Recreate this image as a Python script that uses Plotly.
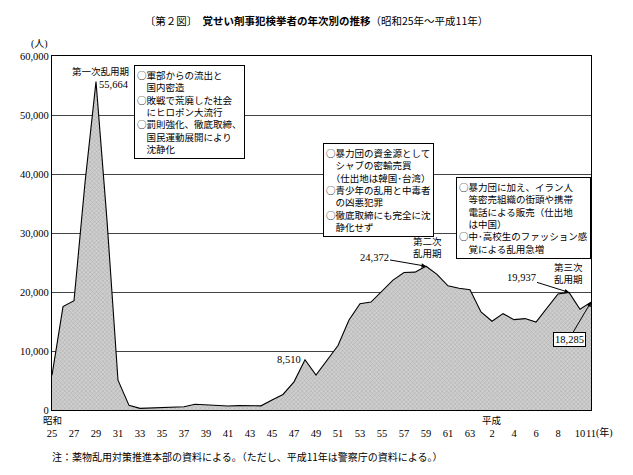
import plotly.graph_objects as go

# ---- data ----
years = list(range(1950, 2000))
arrests = [5900, 17528, 18521, 38514, 55664, 32140, 5047, 781, 271, 370,
           476, 477, 546, 971, 856, 735, 683, 747, 775, 704,
           1682, 2634, 4777, 8510, 5919, 8422, 10919, 15250, 18027, 18297,
           20200, 22024, 23301, 23365, 24372, 22980, 21052, 20643, 20399, 16613,
           15038, 16330, 15311, 15495, 14896, 17364, 19666, 19937, 17084, 18285]

tick_years = list(range(1950, 1989, 2)) + [1990, 1992, 1994, 1996, 1998, 1999]
tick_text = [str(y - 1925) for y in range(1950, 1989, 2)] + ["2", "4", "6", "8", "10", "11"]
y_ticks = [0, 10000, 20000, 30000, 40000, 50000, 60000]

title_text = "〔第２図〕　<b>覚せい剤事犯検挙者の年次別の推移</b>（昭和25年～平成11年）"
box1 = ["○軍部からの流出と", "　国内密造", "○敗戦で荒廃した社会", "　にヒロポン大流行",
        "○罰則強化、徹底取締、", "　国民運動展開により", "　沈静化"]
box2 = ["○暴力団の資金源として", "　シャブの密輸売買", "　（仕出地は韓国･台湾）",
        "○青少年の乱用と中毒者", "　の凶悪犯罪", "○徹底取締にも完全に沈", "　静化せず"]
box3 = ["○暴力団に加え、イラン人", "　等密売組織の街頭や携帯", "　電話による販売（仕出地",
        "　は中国）", "○中･高校生のファッション感", "　覚による乱用急増"]
footnote = "注：薬物乱用対策推進本部の資料による。（ただし、平成11年は警察庁の資料による。）"

# page has an 8px body margin; figure is placed at (8, 8)
OFF = 8
W, H = 633 - 2 * OFF, 475 - 2 * OFF
L, R, T, B = 49, 591, 56, 410   # plot area in page pixels

def px(x):
    return (x - L) / (R - L)

def py(y):
    return (B - y) / (B - T)

SERIF = "Liberation Serif, Noto Sans CJK JP"
JP = "Noto Sans CJK JP"

fig = go.Figure()
fig.add_trace(go.Scatter(
    x=years, y=arrests, mode="lines", fill="tozeroy",
    line=dict(color="black", width=1.1),
    fillcolor="#c4c4c4",
    fillpattern=dict(shape="x", size=3, solidity=0.25, fgcolor="#707070", bgcolor="#cfcfcf"),
    hoverinfo="skip", showlegend=False,
))

ann = []
def txt(text, x, y, size=10, font=JP, xanchor="center", yanchor="middle", **kw):
    d = dict(text=text, x=x, y=y, xref="paper", yref="paper", showarrow=False,
             xanchor=xanchor, yanchor=yanchor,
             font=dict(family=font, size=size, color="black"))
    d.update(kw)
    ann.append(d)

txt("(人)", px(36), py(44), font=SERIF)
txt("第一次乱用期", px(98), py(71), size=9.5)
ann.append(dict(text="55,664", x=years[4], y=arrests[4], xref="x", yref="y", showarrow=False,
                xanchor="left", yanchor="middle", xshift=1, yshift=-3,
                font=dict(family=SERIF, size=10.5, color="black")))
box_style = dict(xanchor="left", yanchor="top", align="left", bordercolor="black",
                 borderwidth=1, borderpad=2, bgcolor="white")
txt("<br>".join(box1), px(131), py(65), size=9.5, **box_style)
txt("<br>".join(box2), px(322), py(143), size=9.5, **box_style)
txt("<br>".join(box3), px(455), py(177), size=9.5, **box_style)
txt("第二次<br>乱用期", px(427), py(247), size=9.5)
txt("第三次<br>乱用期", px(568), py(273), size=9.5)

arrow = dict(xref="x", yref="y", showarrow=True, arrowhead=2, arrowsize=0.9,
             arrowwidth=1, arrowcolor="black", axref="pixel", ayref="pixel")
i84 = years.index(1984)
ann.append(dict(text="24,372", x=years[i84], y=arrests[i84], ax=-52, ay=-9,
                font=dict(family=SERIF, size=10.5, color="black"), **arrow))
i97 = years.index(1997)
ann.append(dict(text="19,937", x=years[i97], y=arrests[i97], ax=-48, ay=-15,
                font=dict(family=SERIF, size=10.5, color="black"), **arrow))
ann.append(dict(text="18,285", x=years[-1], y=arrests[-1], ax=-22, ay=37,
                bordercolor="black", borderwidth=1, borderpad=1, bgcolor="white",
                font=dict(family=SERIF, size=10.5, color="black"), **arrow))
i73 = years.index(1973)
ann.append(dict(text="8,510", x=years[i73], y=arrests[i73], xref="x", yref="y",
                showarrow=False, xanchor="right", yanchor="middle", xshift=-2,
                font=dict(family=SERIF, size=10.5, color="black")))

txt("昭和", px(49), py(420), size=9.5)
txt("平成", px(491), py(420), size=9.5)
txt("(年)", px(605), py(433), font=SERIF)
txt(footnote, px(47), py(456), xanchor="left")

fig.update_layout(
    width=W, height=H,
    margin=dict(l=L - OFF, r=W + OFF - R, t=T - OFF, b=H + OFF - B),
    paper_bgcolor="white", plot_bgcolor="white",
    title=dict(text=title_text, x=0.5 + (316.5 - OFF - W / 2) / W, xanchor="center",
               y=1 - (21 - OFF) / H, yanchor="middle",
               xref="container", yref="container",
               font=dict(family=JP, size=10.5, color="black")),
    annotations=ann,
    xaxis=dict(range=[1950, 1999], tickvals=tick_years, ticktext=tick_text,
               tickangle=0, showgrid=False, zeroline=False,
               showline=True, linecolor="black", linewidth=1.2, mirror=True,
               ticks="", ticklabelstandoff=13,
               tickfont=dict(family=SERIF, size=10.5, color="black")),
    yaxis=dict(range=[0, 60000], tickvals=y_ticks, tickformat=",",
               showgrid=True, gridcolor="#444444", gridwidth=1, zeroline=False,
               showline=True, linecolor="black", linewidth=1.2, mirror=True,
               ticks="", tickfont=dict(family=SERIF, size=10.5, color="black")),
)

fig.write_html("out.html")
